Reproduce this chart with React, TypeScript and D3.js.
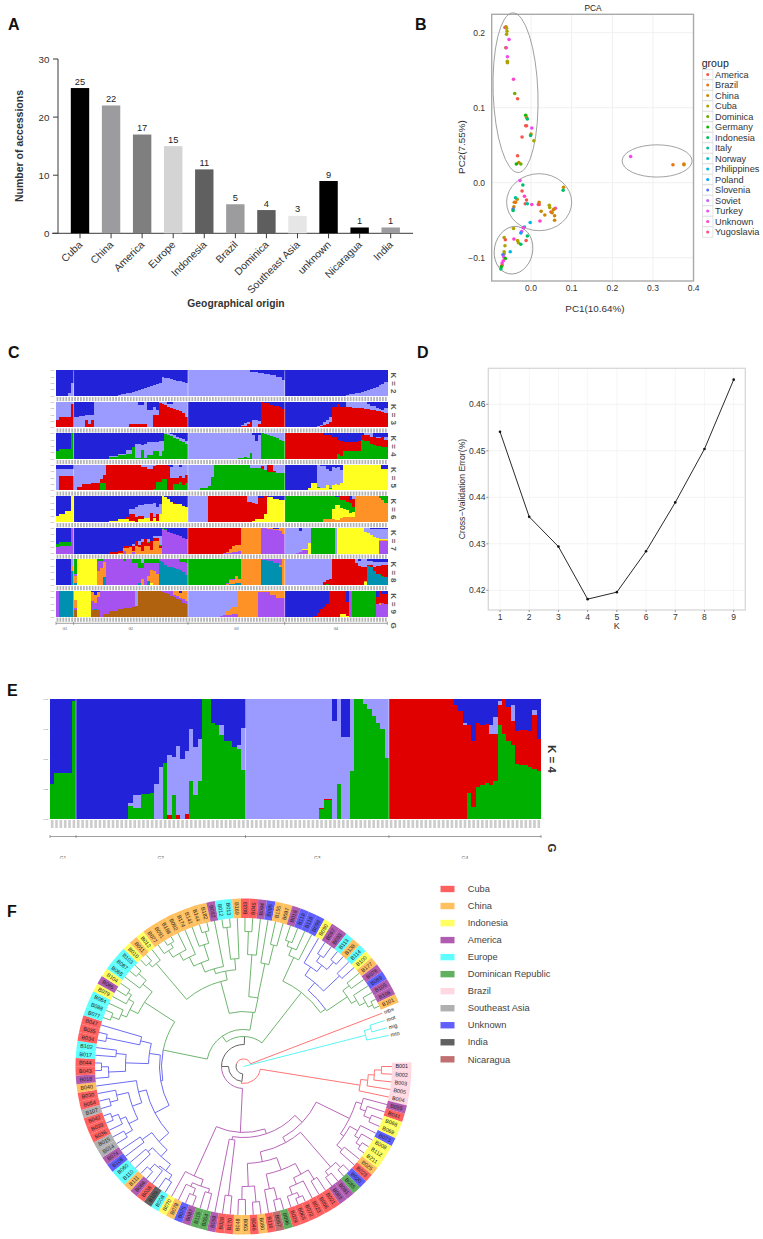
import React from "react";
import * as d3 from "d3";

const FONT = "'Liberation Sans', Arial, sans-serif";

// ---------- Panel A
const originNames = ["Cuba","China","America","Europe","Indonesia","Brazil","Dominica","Southeast Asia","unknown","Nicaragua","India"];
const originCounts = [25,22,17,15,11,5,4,3,9,1,1];
const originShades = ["#000000","#9c9c9e","#7f7f7f","#d4d4d4","#606060","#9c9c9e","#5e5e5e","#e6e6e6","#000000","#000000","#9c9c9e"];

// ---------- Panel B
const pcaGroups = ["America","Brazil","China","Cuba","Dominica","Germany","Indonesia","Italy","Norway","Philippines","Poland","Slovenia","Soviet","Turkey","Unknown","Yugoslavia"];
const pcaColors = ["#F8564D","#E67613","#CD8600","#ABA300","#6CAE00","#0CB702","#00BE67","#00C19A","#00BFC4","#00B8E7","#00A9FF","#5474FF","#C75CFF","#F048ED","#FF41CC","#FF4881"];
const pcaPoints: [number,number,string][] = [
[-.064,.207,"Unknown"],[-.0615,.208,"China"],[-.06,.206,"Cuba"],[-.059,.202,"Cuba"],[-.06,.198,"Cuba"],[-.054,.191,"Turkey"],[-.062,.18,"Cuba"],[-.061,.18,"Unknown"],[-.058,.168,"Turkey"],[-.058,.162,"Cuba"],[-.058,.16,"Cuba"],[-.043,.138,"Unknown"],[-.04,.119,"Dominica"],[-.033,.112,"America"],[-.013,.09,"Germany"],[-.011,.087,"China"],[-.009,.085,"Indonesia"],[-.013,.076,"America"],[-.011,.076,"America"],[.002,.073,"Turkey"],[0,.065,"China"],[-.001,.063,"Indonesia"],[-.022,.061,"America"],[.007,.056,"Cuba"],[-.033,.036,"America"],[-.03,.027,"China"],[-.036,.025,"Germany"],[-.025,.025,"Dominica"],
[-.027,.003,"Turkey"],[-.02,-.003,"Indonesia"],[-.022,-.011,"America"],[-.016,-.018,"Unknown"],[-.011,-.023,"America"],[-.034,-.022,"China"],[-.038,-.02,"Italy"],[-.041,-.026,"China"],[-.038,-.026,"Brazil"],[-.042,-.032,"China"],[-.044,-.035,"Slovenia"],[-.044,-.037,"Indonesia"],[-.014,-.028,"America"],[-.009,-.028,"Italy"],[.002,-.029,"Unknown"],[.018,-.029,"Turkey"],[.02,-.026,"China"],[.02,-.029,"America"],[.025,-.038,"China"],[.034,-.043,"China"],[.022,-.051,"Unknown"],[.045,-.03,"Cuba"],[.046,-.033,"Cuba"],[.049,-.039,"America"],[.052,-.04,"China"],[.055,-.036,"China"],[.06,-.034,"Unknown"],[.057,-.035,"China"],[.058,-.044,"China"],[.058,-.05,"China"],[.08,-.006,"China"],[.079,-.01,"Indonesia"],[-.002,-.053,"Philippines"],
[-.016,-.059,"Philippines"],[-.019,-.06,"Unknown"],[-.023,-.065,"Turkey"],[-.025,-.067,"Poland"],[-.043,-.061,"Cuba"],[-.009,-.071,"Indonesia"],[-.042,-.075,"Unknown"],[-.033,-.077,"Cuba"],[-.031,-.08,"Cuba"],[-.025,-.082,"Indonesia"],[-.012,-.077,"America"],[-.066,-.073,"Cuba"],[-.063,-.076,"America"],[-.064,-.084,"Cuba"],[-.051,-.092,"Philippines"],[-.066,-.092,"Cuba"],[-.066,-.095,"Cuba"],[-.069,-.096,"Slovenia"],[-.067,-.099,"Turkey"],[-.063,-.101,"Germany"],[-.068,-.104,"Unknown"],[-.071,-.107,"Turkey"],[-.071,-.11,"America"],[-.073,-.112,"Germany"],[-.074,-.115,"Indonesia"],
[.245,.035,"Turkey"],[.349,.024,"Brazil"],[.376,.025,"Brazil"],[.376,.024,"China"]];
const pcaEllipses: [number,number,number,number,number][] = [[-.038,.12,.055,.1065,-2],[.02,-.026,.08,.038,0],[-.043,-.09,.047,.032,12],[.31,.029,.086,.0215,0]];
const pcaXTicks = [0,.1,.2,.3,.4];
const pcaYTicks = [-.1,0,.1,.2];

// ---------- Panel D
const cvK = [1,2,3,4,5,6,7,8,9];
const cvError = [.4541,.4358,.4294,.4181,.4196,.4284,.4389,.4504,.4653];
const cvTicks = [.42,.43,.44,.45,.46];

// ---------- Panels C, E: ancestry runs, [column count, share of each stacked colour...]; last colour takes the rest
const structColors: Record<string,string> = {B:"#2222d8",P:"#9a9aff",R:"#e00000",G:"#00b000",Y:"#ffff20",O:"#ff9226",V:"#a552f0",T:"#0090b0",N:"#b0620f"};
const groupSizes = [6,39,33,35];
const groupNames = ["G1","G2","G3","G4"];
type Run = number[];
const k2Order = "PB";
const k2: Run[][] = [
[[4,0],[1,.1],[1,.5]],
[[15,0],[1,.04],[1,.06],[1,.08],[1,.1],[1,.13],[1,.16],[1,.2],[1,.23],[1,.26],[1,.3],[1,.33],[1,.38],[1,.42],[1,.46],[1,.5],[1,.72],[1,.7],[1,.68],[1,.65],[1,.62],[1,.6],[1,.58],[1,.55],[1,.52]],
[[21,1],[1,.95],[1,.93],[1,.92],[1,.9],[1,.88],[1,.87],[1,.85],[1,.82],[1,.8],[1,.75],[1,.72],[1,.64]],
[[21,0],[1,.04],[1,.06],[1,.08],[1,.1],[1,.12],[1,.15],[1,.2],[1,.24],[1,.28],[1,.3],[1,.36],[1,.42],[1,.48],[1,.55]]];
const k3Order = "RPB";
const k3: Run[][] = [
[[1,.3,.7],[4,.4,.6],[1,.93,.07]],
[[1,0,.4],[1,0,.42],[1,0,.44],[1,0,.45],[1,.3,.17],[1,.15,.35],[1,.3,.2],[12,0,1],[3,.12,.88],[2,.15,.72],[1,.15,.85],[2,0,.68],[1,.5,.3],[1,.5,.2],[1,.95,.05],[1,.92,.08],[1,.88,.12],[1,.78,.14],[1,.75,.17],[1,.73,.27],[1,.7,.3],[1,.65,.35],[1,.55,.45],[1,.4,.6]],
[[17,0,0],[1,.03,0],[1,.05,.03],[1,.06,.12],[1,.15,.05],[1,.2,0],[2,0,.28],[1,.15,.1],[1,.98,0],[1,.97,0],[1,.95,0],[1,.88,0],[1,.85,0],[1,.82,0],[1,.8,0],[1,.72,0]],
[[11,0,0],[1,.03,.03],[1,.06,.05],[1,.1,.1],[1,.15,.15],[1,.22,.2],[2,.8,0],[1,.93,0],[2,.8,0],[1,.79,.21],[1,.78,.22],[2,.77,.23],[2,.75,.25],[1,.73,.27],[1,.72,.2],[1,.7,.12],[1,.68,.15],[1,.66,.08],[1,.63,.1],[1,.6,.1],[1,.55,.2],[1,.5,.15],[1,.42,.2]]];
const k4Order = "GRPB";
const k4: Run[][] = [
[[1,.3],[4,.37],[1,1]],
[[12,0],[3,.07,0,.05],[3,.17,0,.02],[2,.2,0,.15],[1,.45],[2,.05,0,.55],[1,.35,0,.2],[1,.05,0,.55],[2,.15,.02,.5],[2,.3,0,.35],[1,.12,0,.6],[1,.3,0,.4],[1,.98,0,.02],[1,.95,0,.05],[1,.88,0,.1],[1,.82,0,.12],[1,.78,0,.08],[1,.7,0,.12],[1,.65,0,.12],[1,.6,0,.12],[1,.52,0,.15],[1,.4,0,.25]],
[[17,0,0,1],[2,.03,0,.97],[1,.08,0,.92],[1,.03,0,.97],[1,.25,0,.75],[1,0,0,.95],[1,0,0,.7],[1,0,0,.95],[1,1],[1,.98,0,.02],[1,.95,0,.05],[1,.9,0,.1],[1,.85,0,.15],[1,.8,0,.2],[1,.75,0,.25],[1,.7,0,.3],[1,.62,0,.38]],
[[13,0,1],[3,0,.93,0],[2,0,.87],[1,.2,.55],[1,.1,.6],[5,.3,.35],[1,.3,.42],[1,.75,.2],[2,.72,.2,.08],[1,.6,.25,.15],[1,.55,.3],[2,.5,.3,.05],[1,.48,.37],[3,.45,.3,.1]]];
const k5Order = "YGRPB";
const k5: Run[][] = [
[[1,.03,0,0,.82],[5,0,0,.55,.28]],
[[1,0,0,0,1],[2,0,0,.12,.88],[3,0,0,.25,.75],[3,0,0,.28,.72],[1,0,.3,.15,.55],[1,0,.3,.3,.4],[12,0,0,1],[2,0,.03,.87,.1],[2,0,.02,.83,.15],[1,0,.05,.9,.05],[2,0,.35,.65],[2,0,.45,.55],[1,0,0,.97,0],[1,0,0,.5,.4],[2,0,.25,.25,.5],[1,0,.35,.2,.35],[1,0,.2,.3,.5],[1,0,.3,.3,.4]],
[[4,.02,0,0,1],[3,.02,.08,0,.9],[1,.02,.15,0,.85],[1,.02,.5,0,.5],[12,0,1],[4,0,.88,0,.12],[1,0,.82,.12,.06],[1,0,.8,0,.2],[2,0,.72,.28],[1,0,.72,.05,.23],[1,0,.7,0,.3]],
[[8,0],[1,.1],[2,.3],[1,.1,.05,0,.85],[2,.1,0,0,.85],[1,.2,.02,0,.6],[1,.05,.05,0,.65],[1,.2,.02,0,.7],[1,.25,.02,0,.6],[1,.2,0,0,.7],[1,.3,0,0,.5],[13,1],[3,.85]]];
const k6Order = "OYGRPB";
const k6: Run[][] = [
[[1,0,.25],[2,0,.3],[2,0,.42],[1,0,1]],
[[12,0],[3,0,.05],[3,0,.1],[1,0,.1,0,.1],[2,0,.03,0,.28,.2],[1,0,0,0,.2,.4],[2,0,.1,0,.15,.4],[2,0,.15,0,.02,.55],[1,0,.05,0,.3,.35],[1,0,.15,0,.05,.55],[1,0,.05,0,.25,.3],[1,0,.3,0,0,.4],[1,0,1],[1,0,.97],[1,0,.9],[1,0,.8],[1,0,.72,0,.02],[2,0,.7],[1,0,.62],[2,0,.6],[1,0,.52],[1,0,.47]],
[[7,0,0,0,0,1],[13,0,0,0,1],[2,0,0,0,.8,.2],[1,0,.03,0,.72,.25],[1,0,.1,0,.6,.3],[2,0,.12,0,.82],[1,0,.3,0,.7],[1,0,.98],[1,0,.97],[2,0,.9],[2,0,.85],[1,0,.75],[1,0,.6,0,0,.4]],
[[13,0,0,1],[3,.12,0,.88],[1,.1,.4,.5],[2,.08,.6,.3],[1,.15,.4,.3,.15],[1,.2,.32,.35,.13],[1,.18,.3,.3,.22],[1,.2,.15,.4,.1],[1,.2,.2,.2,.3,.1],[8,1],[1,.95,0,.05],[1,.85,0,.15],[1,.75,0,.25],[1,.7,0,.25]]];
const k7Order = "VOYRGPB";
const k7: Run[][] = [
[[1,.25,0,0,0,.12],[4,.3,0,0,0,.15],[1,1]],
[[12,0],[3,0,0,0,.05],[2,0,.03,0,.08],[1,.1,.12,0,.08],[1,0,.2,0,.1],[1,0,.25,0,.05],[1,.05,.03,0,.2,0,.08],[1,0,.3,0,.2],[1,0,.25,0,.08,.02,.15],[1,0,.1,0,.35,0,.1],[1,0,.3,0,.28],[1,0,.28,0,.15,.02,.1],[1,0,.15,0,.35],[2,0,.5,0,.12,0,.05],[1,0,.2,0,.1,.02,.35],[1,.97,0,0,0,.03],[1,.92,0,0,0,.05],[1,.85],[1,.8],[1,.78],[1,.74],[1,.68],[1,.62],[1,.55],[1,.45]],
[[12,0,0,0,1],[1,.02,0,0,.98],[1,.04,.03,0,.93],[1,.04,.12,0,.84],[1,.06,.22,0,.72],[1,.05,.3,0,.65],[1,.1,.25,0,.65],[7,0,1],[2,1],[2,.97,.03],[2,.92,.05],[1,.88,.12],[1,.78,.2]],
[[4,0,0,0,0,0,1],[1,.03,0,0,0,0,.97],[1,.05,0,0,0,0,.85],[2,.12,0,.06,0,0,.82],[1,0,0,.4,0,0,.6],[8,0,0,0,0,1],[1,0,0,0,0,0,1],[9,0,0,1],[1,0,0,.85,0,0,.15],[1,0,0,.8,0,0,.2],[1,0,0,.72,0,0,.25],[1,0,0,.65,0,0,.3],[1,0,0,.6,0,0,.35],[3,.5,.02,.05,0,0,.4]]];
const k8Order = "TYOVGRPB";
const k8: Run[][] = [
[[5,0],[1,.55,0,.2,0,0,0,.25]],
[[1,.1,0,.25,.1,.55],[7,0,1],[1,0,0,.55,.4,.05],[1,0,0,.65,.3,.05],[1,.3,0,.6,.1],[6,0,0,0,1],[1,0,0,0,.95,.05],[2,0,0,0,1],[2,0,0,0,.88,.12],[1,.1,0,0,.55,.35],[1,0,0,.25,.4,.2,0,.15],[1,0,0,0,.85,.15],[1,.15,0,.2,.5,.15],[1,0,.1,.5,.25,.15],[1,0,0,.55,.3,.15],[1,0,0,.45,.4,.15],[1,.95,0,0,.05],[1,.9,0,0,.1],[1,.78,0,0,.22],[1,.72,0,0,.28],[1,.7,0,0,.3],[1,.65,0,0,.35],[1,.62,0,0,.38],[1,.58,0,0,.32,.1],[1,.5,0,0,.4,.1],[1,.38,0,0,.5,.12]],
[[12,0,0,0,0,1],[1,0,0,0,.02,.98],[1,.02,0,.03,.02,.93],[2,.05,0,.15,.02,.78],[1,.1,0,.25,0,.65],[1,.08,0,.15,0,.77],[7,0,0,1],[2,.98,0,0,.02],[2,.95,0,0,.05],[2,.85,0,0,.15],[1,.72,0,.05,.23],[1,0,0,1]],
[[13,0,0,0,0,0,0,1],[1,0,0,0,0,.02,.1,.88],[1,0,0,0,0,.06,.15,.79],[1,0,0,0,0,.02,.22,.76],[8,0,0,0,0,0,1],[1,0,0,0,0,0,.85,.15],[1,0,0,0,0,0,.75,.2],[1,0,0,0,0,0,.72,.28],[1,0,.12,.03,0,0,.55,.3],[1,.75,0,0,0,0,.05,.15],[1,.7,0,0,0,0,.08,.15],[1,.55,0,0,0,0,.15,.2],[1,.45,0,0,0,0,.3,.15,.1],[1,.4,0,0,0,.05,.3,.15],[1,.32,0,0,0,.02,.45,.1],[1,.3,0,0,0,0,.5,.1]]];
const k9Order = "NTVOYRGPB";
const k9: Run[][] = [
[[1,0,0,1],[5,0,1]],
[[1,.25,0,.1,.3,.35],[5,0,0,0,0,1],[1,.25,0,.35,.35],[1,.25,.05,.25,.3],[1,.25,0,.5,.2],[1,0,0,1],[2,.1,0,.9],[3,.2,0,.8],[2,.28,0,.72],[3,.35,0,.65],[1,.38,0,.62],[1,.4,0,0,0,0,0,0,.6],[8,1],[1,.97,0,.03],[1,.92,0,.08],[1,.88,0,.12],[1,.82,0,.18],[1,.75,0,.1,.15],[1,.7,0,.1,.2],[1,.63,0,.1,.2],[1,.55,0,.12,.33],[1,.5,0,.1,.4],[1,.42,0,.1,.48]],
[[11,0,0,0,0,0,0,0,1],[1,0,0,.03,0,0,0,0,.97],[1,0,0,.05,.02,0,0,0,.93],[1,0,0,.05,.15,0,0,0,.8],[1,0,0,.07,.22,0,0,0,.71],[2,0,0,.12,.25,0,0,0,.63],[7,0,0,0,1],[2,0,0,.98,.02],[2,0,0,.95,.05],[2,0,0,.85,.15],[1,0,0,.72,.28]],
[[10,0,0,0,0,0,0,0,0],[1,0,0,0,0,0,.03],[1,0,0,0,0,0,.15],[1,0,0,0,0,0,.3],[1,0,0,0,0,0,.38],[1,0,0,0,0,0,.48],[4,0,0,0,0,0,1],[2,0,0,0,0,.1,.9],[1,0,0,0,0,.03,.55],[1,0,0,1],[8,0,0,0,0,0,0,1],[1,0,0,.5,0,0,.25],[1,0,0,.45,.1,0,.45],[1,0,0,.55,0,0,.35],[1,0,0,.5,0,0,.4]]];
const eOrder = "GRPB";
const eK4: Run[][] = [
[[1,.29],[4,.38],[1,.98]],
[[12,0],[1,.11,0,.02],[2,.09,0,.11],[2,.21],[1,.22],[1,0,0,.29],[1,0,0,.43],[1,.47],[1,0,.03,.5],[1,.2,0,.32],[1,0,.03,.58],[1,0,0,.5],[1,0,.04,.53],[1,.32,0,.43],[1,.2,0,.4],[1,.32,0,.35],[2,1],[1,.8],[1,.78],[1,.7,0,.08],[2,.65],[1,.6],[1,.58,0,.04],[1,.41,0,.35]],
[[17,0,0,1],[1,.08,.01,.91],[2,.16,.01,.83],[1,0,0,.82],[1,.29,0,.71],[2,0,0,.68],[1,.4,0,.6],[2,1],[1,.96,0,.04],[1,.92,0,.08],[1,.86,0,.14],[1,.8,0,.2],[1,.75,0,.25],[1,.51,0,.49]],
[[15,0,1],[1,0,.95],[1,0,.9],[1,0,.78,.02],[1,.22,.56],[1,.1,.55],[1,.27,.53],[1,.28,.5],[1,.3,.49],[1,.28,.43,.07],[1,.32,.39,.14],[1,.78,.17,.03],[1,.71,.29],[1,.65,.28],[1,.62,.2,.13],[1,.46,.27],[2,.45,.29],[1,.43,.3],[1,.42,.45,.04],[1,.4,.27],[1,.4,.38,.02]]];
const structRows: [number,string,Run[][]][] = [[2,k2Order,k2],[3,k3Order,k3],[4,k4Order,k4],[5,k5Order,k5],[6,k6Order,k6],[7,k7Order,k7],[8,k8Order,k8],[9,k9Order,k9]];
const shareTicks = ["0.00","0.25","0.50","0.75","1.00"];

// ---------- Panel F
const originLegend = ["Cuba","China","Indonesia","America","Europe","Dominican Republic","Brazil","Southeast Asia","Unknown","India","Nicaragua"];
const originFill = ["#ff6060","#ffc060","#ffff60","#b05cb0","#60ffff","#60b060","#ffd8e2","#b0b0b0","#6060ff","#606060","#c07070"];
const leafNames = ["B001","B002","B003","B005","B004","B055","B041","B068","B069","B073","B008","B112","B211","B025","B023","B020","B085","B081","B083","B021","B056","B023","B072","B065","B029","B096","B067","B116","B080","B046","B063","B048","B170","B028","B059","B054","B115","B087","B075","B078","B070","B008","B109","B038","B066","B111","B110","B060","B108","B074","B014","B015","B036","B039","B042","B107","B054","B030","B040","B018","B043","B044","B017","B102","B034","B035","B047","B077","B088","B084","B079","B085","B104","B065","B087","B103","B010","B011","B012","B077","B091","B188","B092","B174","B141","B144","B182","B092","B012","B013","B169","B033","B045","B094","B095","B155","B097","B018","B119","B118","B099","B090","B067","B093","B113","B138","B114","B100","B177","B076","B089","B105","B106","B101"];
const leafOrigin = ["Brazil","Brazil","Brazil","Brazil","Brazil","America","Cuba","Indonesia","Indonesia","Unknown","Indonesia","Indonesia","Indonesia","China","Cuba","Unknown","Dominican Republic","America","America","Cuba","Cuba","Cuba","Cuba","Cuba","Cuba","Dominican Republic","Nicaragua","Cuba","China","Cuba","China","China","Cuba","Cuba","America","Dominican Republic","Dominican Republic","America","Unknown","China","Indonesia","Europe","India","Cuba","America","China","Europe","Europe","Unknown","America","Southeast Asia","Southeast Asia","Cuba","Cuba","Cuba","Southeast Asia","Cuba","Cuba","China","America","Cuba","Cuba","Europe","Europe","Cuba","Cuba","Cuba","Europe","Europe","Europe","Indonesia","America","Indonesia","Europe","Europe","Europe","Indonesia","China","Indonesia","China","China","China","China","China","China","China","China","America","Europe","Europe","China","Cuba","Cuba","America","Unknown","China","China","America","Unknown","Unknown","Unknown","Indonesia","America","America","Europe","China","Europe","Indonesia","China","America","Unknown","America","America","China"];
const outgroupNames = ["mbe","mot","mig","mto"];
// tree: [radius, child, child...], a child is a leaf index or a node; [[radius, angle], ...] fixes the node's angle
const paint = (color: string, node: any) => ({ color, node });
const cRed = "#ff7474", cCyan = "#5cf4f4", cGray = "#666666", cGreen = "#6fb56f", cBlue = "#6c6cf2", cPurple = "#b866b8";
const cladeBrazil = [118,[125,[131,[138,0,1],2],3],4];
const cladeA = [118,[124,5,[130,6,[137,7,8]]],[122,[131,9,[136,10,[141,11,12]]],[129,13,14]]];
const cladeB = [133,[140,15,16],[138,17,18]];
const cladeD = [97,[110,[122,[133,19,20],[129,21,[137,[142,22,23],24]]],[125,[137,25,26],27]],[120,[136,28,29],[133,30,31]]];
const cladeE = [74,[130,32,33],34];
const cladeLL = [120,[127,[131,35,36],[131,[138,37,38],39]],40];
const cladePurple = [66,[71,[81,cladeA,[[87,61],cladeB,cladeD]],cladeE],cladeLL];
const bl2 = [113,[122,[130,[136,41,42],[132,43,[139,44,45]]],[128,46,47]],[125,48,49]];
const bl1 = [108,[118,[128,[136,50,51],[134,52,[141,53,54]]],[130,[138,55,56],57]],58];
const blUp = [95,[118,[135,59,[142,60,61]],[128,62,63]],[106,[140,64,65],66]];
const cladeBlue = [84,[100,bl2,bl1],blUp];
const cladeG3 = [118,[127,[133,[141,67,68],69],[133,70,[137,71,72]]],[130,73,[140,74,75]]];
const cladeLeft = [82,paint(cBlue,cladeBlue),cladeG3];
const t76 = [135,[140,76,77],78];
const tLad = [102,[112,[122,[130,[138,79,[143,80,81]],82],83],[128,84,[140,85,86]]],87];
const tA = [108,[140,88,89],90];
const tB = [112,[135,91,92],93];
const tC = [105,94,[125,95,96]];
const cladeTop = [[55,280],[[88,255],t76,[97,tLad,tA]],[[70,282],tB,tC]];
const right1 = [120,[128,[133,97,98],99],100];
const blue2 = [110,[120,101,[128,[135,102,103],[138,104,105]]],[132,106,107]];
const green2 = [125,[133,108,109],[131,110,[138,111,[143,112,113]]]];
const cladeRight = [[94,308],right1,[[100,325],paint(cBlue,blue2),green2]];
const cladeGreen = [[30,272],paint(cGreen,[[37,235],cladeLeft,cladeTop]),paint(cGreen,cladeRight)];
const treeRoot = [0,
  paint("none",[[7.5,199],
    paint(cGray,[[15,96],
      paint(cRed,[[17,97],cladeBrazil]),
      paint(cGray,[[22,180],paint(cPurple,cladePurple),paint(cGray,cladeGreen)])]),
    paint(cRed,114)]),
  paint(cCyan,[126,[133,115,116],117])];

// ---------- drawing helpers
const Txt = (p: any) => <text fontFamily={FONT} {...p} />;

function PanelA() {
  const x = d3.scalePoint(originNames, [80, 390.7]);
  const y = d3.scaleLinear([0, 30], [233.3, 59]);
  const ink = "#3a3a3a";
  return (
    <g>
      <line x1={58} x2={58} y1={y(30)} y2={y(0)} stroke={ink} strokeWidth={1} />
      <line x1={52} x2={413} y1={y(0)} y2={y(0)} stroke={ink} strokeWidth={1} />
      {y.ticks(3).map(t => (
        <g key={t}>
          <line x1={53} x2={58} y1={y(t)} y2={y(t)} stroke={ink} />
          <Txt x={49.5} y={y(t) + 3.5} fontSize={9.8} textAnchor="end" fill="#333">{t}</Txt>
        </g>
      ))}
      {originNames.map((n, i) => (
        <g key={n}>
          <rect x={x(n)! - 9.2} width={18.4} y={y(originCounts[i])} height={y(0) - y(originCounts[i])} fill={originShades[i]} />
          <line x1={x(n)} x2={x(n)} y1={y(0)} y2={y(0) + 5} stroke={ink} />
          <Txt x={x(n)} y={y(originCounts[i]) - 3.5} fontSize={9.3} textAnchor="middle" fill="#222">{originCounts[i]}</Txt>
          <Txt transform={`translate(${x(n)! + 3},${y(0) + 12}) rotate(-45)`} fontSize={10.4} textAnchor="end" fill="#333">{n}</Txt>
        </g>
      ))}
      <Txt transform="translate(23,146) rotate(-90)" fontSize={10.5} fontWeight={700} fill="#333" textAnchor="middle">Number of accessions</Txt>
      <Txt x={236} y={307} fontSize={10.3} fontWeight={700} fill="#333" textAnchor="middle">Geographical origin</Txt>
    </g>
  );
}

function PanelB() {
  const x = d3.scaleLinear([0, .4], [531, 693.7]);
  const y = d3.scaleLinear([-.1, .2], [257.7, 32.7]);
  const left = 491.7, right = 693.5, top = 14.3, bottom = 281;
  const colorOf = d3.scaleOrdinal(pcaGroups, pcaColors);
  return (
    <g>
      {pcaXTicks.map(t => <line key={t} x1={x(t)} x2={x(t)} y1={top} y2={bottom} stroke="#f0f0f0" />)}
      {pcaYTicks.map(t => <line key={t} y1={y(t)} y2={y(t)} x1={left} x2={right} stroke="#f0f0f0" />)}
      <rect x={left} y={top} width={right - left} height={bottom - top} fill="none" stroke="#aaaaaa" strokeWidth={1.4} />
      {pcaXTicks.map(t => <Txt key={t} x={x(t)} y={290.5} fontSize={8.5} textAnchor="middle" fill="#333">{t.toFixed(1)}</Txt>)}
      {pcaYTicks.map(t => <Txt key={t} x={485} y={y(t) + 3} fontSize={8.5} textAnchor="end" fill="#333">{t < 0 ? "−" + (-t).toFixed(1) : t.toFixed(1)}</Txt>)}
      <Txt x={593} y={10.5} fontSize={8.4} textAnchor="middle" fill="#222">PCA</Txt>
      <Txt x={595} y={312} fontSize={9.9} textAnchor="middle" fill="#333">PC1(10.64%)</Txt>
      <Txt transform="translate(465,147) rotate(-90)" fontSize={9.9} textAnchor="middle" fill="#333">PC2(7.55%)</Txt>
      {pcaEllipses.map((e, i) => {
        const cx = x(e[0]), cy = y(e[1]);
        return <ellipse key={i} cx={cx} cy={cy} rx={x(e[2]) - x(0)} ry={y(0) - y(e[3])} transform={`rotate(${e[4]},${cx},${cy})`} fill="none" stroke="#8a8a8a" strokeWidth={.8} />;
      })}
      {pcaPoints.map((p, i) => <circle key={i} cx={x(p[0])} cy={y(p[1])} r={1.8} fill={colorOf(p[2])} />)}
      <Txt x={701.7} y={67} fontSize={10.6} fill="#222">group</Txt>
      {pcaGroups.map((g, i) => {
        const yy = 74.5 + i * 10.5;
        return (
          <g key={g}>
            <rect x={702.5} y={yy - 5.2} width={10.4} height={10.4} fill="#fff" stroke="#dddddd" strokeWidth={.8} />
            <circle cx={707.7} cy={yy} r={1.5} fill={colorOf(g)} />
            <Txt x={715} y={yy + 3.2} fontSize={9.2} fill="#333">{g}</Txt>
          </g>
        );
      })}
    </g>
  );
}

function PanelD() {
  const x = d3.scaleLinear([1, 9], [500, 733.7]);
  const y = d3.scaleLinear([.42, .46], [590.3, 404.3]);
  const left = 488.3, right = 745.3, top = 368.3, bottom = 610;
  const line = d3.line<number>((_, i) => x(cvK[i]), d => y(d));
  return (
    <g>
      {cvK.map(k => <line key={k} x1={x(k)} x2={x(k)} y1={top} y2={bottom} stroke="#f6f6f6" />)}
      {cvTicks.map(t => <line key={t} x1={left} x2={right} y1={y(t)} y2={y(t)} stroke="#f3f3f3" />)}
      <rect x={left} y={top} width={right - left} height={bottom - top} fill="none" stroke="#d8d8d8" strokeWidth={1.3} />
      <path d={line(cvError)!} fill="none" stroke="#2a2a2a" strokeWidth={1} />
      {cvError.map((v, i) => <circle key={i} cx={x(cvK[i])} cy={y(v)} r={1.3} fill="#111" />)}
      {cvK.map(k => (
        <g key={k}>
          <line x1={x(k)} x2={x(k)} y1={bottom} y2={bottom + 2} stroke="#555" strokeWidth={.6} />
          <Txt x={x(k)} y={619.8} fontSize={8.5} textAnchor="middle" fill="#333">{k}</Txt>
        </g>
      ))}
      {cvTicks.map(t => (
        <g key={t}>
          <line x1={left - 2} x2={left} y1={y(t)} y2={y(t)} stroke="#555" strokeWidth={.6} />
          <Txt x={485.5} y={y(t) + 3} fontSize={8.5} textAnchor="end" fill="#333">{t.toFixed(2)}</Txt>
        </g>
      ))}
      <Txt x={616.7} y={628.5} fontSize={9} textAnchor="middle" fill="#333">K</Txt>
      <Txt transform="translate(465,489) rotate(-90)" fontSize={8.7} textAnchor="middle" fill="#333">Cross−Validation Error(%)</Txt>
    </g>
  );
}

function Structure({ order, runs, left, right, top, height, stripH, stripFill, tickFont, label }: any) {
  const total = d3.sum(groupSizes);
  const cols = d3.range(total);
  const x = d3.scaleBand<number>(cols, [left, right]);
  const y = d3.scaleLinear([0, 1], [top + height, top]);
  const rects: any[] = [];
  let start = 0;
  groupSizes.forEach((size, g) => {
    let col = start;
    const list: Run[] = runs[g];
    list.forEach((run: Run, ri: number) => {
      const n = ri === list.length - 1 ? start + size - col : run[0];
      for (let c = col; c < col + n && c < start + size; c++) {
        let acc = 0;
        for (let s = 0; s < order.length; s++) {
          const share = s === order.length - 1 ? 1 - acc : (run[s + 1] || 0);
          if (share > 0) {
            const a = Math.min(acc, 1), b = Math.min(acc + share, 1);
            rects.push(<rect key={c + "-" + s} x={x(c)} width={x.bandwidth() + .3} y={y(b)} height={y(a) - y(b)} fill={structColors[order[s]]} />);
            acc = b;
          }
        }
      }
      col += n;
    });
    start += size;
  });
  let edge = 0;
  const edges = groupSizes.slice(0, -1).map(s => (edge += s));
  return (
    <g>
      <g shapeRendering="crispEdges">{rects}</g>
      {edges.map(e => <line key={e} x1={x(e)} x2={x(e)} y1={top} y2={top + height} stroke="#fff" strokeWidth={.6} strokeOpacity={.75} />)}
      {cols.map(c => <rect key={c} x={x(c)! + x.bandwidth() * .2} width={x.bandwidth() * .6} y={top + height + 1} height={stripH} fill={stripFill} />)}
      {shareTicks.map((t, i) => <Txt key={t} x={left - 2} y={y(i / 4) + .9} fontSize={tickFont} textAnchor="end" fill="#666">{t}</Txt>)}
      {label}
    </g>
  );
}

function GroupAxis({ left, right, y0, labelY, font, clip }: any) {
  const total = d3.sum(groupSizes);
  const x = d3.scaleLinear([0, total], [left, right]);
  let acc = 0;
  const stops = [0, ...groupSizes.map(s => (acc += s))];
  return (
    <g>
      <line x1={left} x2={right} y1={y0} y2={y0} stroke="#777" strokeWidth={.7} />
      {stops.map(s => <line key={s} x1={x(s)} x2={x(s)} y1={y0 - 1.5} y2={y0 + 1.5} stroke="#777" strokeWidth={.7} />)}
      <g clipPath={clip}>
        {groupNames.map((n, i) => <Txt key={n} x={(x(stops[i]) + x(stops[i + 1])) / 2} y={labelY} fontSize={font} textAnchor="middle" fill="#555">{n}</Txt>)}
      </g>
    </g>
  );
}

function PanelC() {
  const left = 56, right = 387.3;
  const rowTop = d3.scaleLinear([2, 9], [370.3, 591]);
  return (
    <g>
      {structRows.map(([k, order, runs]) => (
        <Structure key={k} order={order} runs={runs} left={left} right={right} top={rowTop(k)} height={25.6} stripH={4.2} stripFill="#b4b4b4" tickFont={1.8}
          label={<Txt transform={`translate(391,${rowTop(k) + 12.8}) rotate(90)`} fontSize={8} fontWeight={700} letterSpacing={.4} textAnchor="middle" fill="#555">{"K = " + k}</Txt>} />
      ))}
      <GroupAxis left={left} right={right} y0={623.3} labelY={629.5} font={3.4} />
      <Txt transform="translate(391,625.5) rotate(90)" fontSize={8} fontWeight={700} textAnchor="middle" fill="#555">G</Txt>
    </g>
  );
}

function PanelE() {
  const left = 50, right = 541, top = 699, h = 120;
  return (
    <g>
      <defs><clipPath id="eclip"><rect x={0} y={840} width={763} height={18.5} /></clipPath></defs>
      <Structure order={eOrder} runs={eK4} left={left} right={right} top={top} height={h} stripH={8} stripFill="#cccccc" tickFont={2.4}
        label={<Txt transform={`translate(547.5,${top + 60}) rotate(90)`} fontSize={11.5} fontWeight={700} textAnchor="middle" fill="#333">K = 4</Txt>} />
      <GroupAxis left={left} right={right} y0={836.5} labelY={860} font={5} clip="url(#eclip)" />
      <Txt transform="translate(547.5,848) rotate(90)" fontSize={11.5} fontWeight={700} textAnchor="middle" fill="#333">G</Txt>
    </g>
  );
}

function PanelF() {
  const cx = 243.5, cy = 1066.5, rIn = 148.5, rOut = 168;
  const angle = d3.scaleLinear([0, 113], [0, 336]);
  const rad = (a: number) => (a * Math.PI) / 180;
  const fillOf = d3.scaleOrdinal(originLegend, originFill);
  const segs: Record<string, string[]> = {};
  const add = (c: string, d: string) => { if (c !== "none") (segs[c] = segs[c] || []).push(d); };
  const unwrap = (n: any) => (n && n.node !== undefined ? n.node : n);
  const angleOf = (raw: any): number => {
    const n = unwrap(raw);
    if (typeof n === "number") return angle(n);
    if (Array.isArray(n[0])) return n[0][1];
    const kids = n.slice(1).map(angleOf);
    return (kids[0] + kids[kids.length - 1]) / 2;
  };
  const radiusOf = (raw: any): number => {
    const n = unwrap(raw);
    if (typeof n === "number") return rIn;
    return Array.isArray(n[0]) ? n[0][0] : n[0];
  };
  const walk = (raw: any, color: string) => {
    const n = unwrap(raw);
    if (typeof n === "number") return;
    const r = radiusOf(n), a0 = angleOf(n);
    n.slice(1).forEach((child: any) => {
      const c = child && child.color ? child.color : color;
      const a1 = angleOf(child), r1 = radiusOf(child);
      const p = d3.path();
      if (r > 0) {
        p.arc(cx, cy, r, rad(a0), rad(a1), a1 < a0);
        p.lineTo(cx + r1 * Math.cos(rad(a1)), cy + r1 * Math.sin(rad(a1)));
      } else {
        p.moveTo(cx, cy);
        p.lineTo(cx + r1 * Math.cos(rad(a1)), cy + r1 * Math.sin(rad(a1)));
      }
      add(c, p.toString());
      walk(child, c);
    });
  };
  walk(treeRoot, cGreen);
  const arc = d3.arc<number>().innerRadius(rIn).outerRadius(rOut)
    .startAngle(i => rad(angle(i - .5) + 90)).endAngle(i => rad(angle(i + .5) + 90));
  const legendY = d3.scaleLinear([0, 10], [889, 1059.3]);
  return (
    <g>
      <g transform={`translate(${cx},${cy})`}>
        {leafNames.map((_, i) => <path key={i} d={arc(i)!} fill={fillOf(leafOrigin[i])} />)}
      </g>
      {Object.keys(segs).map(c => <path key={c} d={segs[c].join(" ")} fill="none" stroke={c} strokeWidth={1} />)}
      {leafNames.map((n, i) => {
        const a = angle(i);
        const flip = a > 90 && a < 270;
        return (
          <Txt key={i} transform={`translate(${cx + (rIn + rOut) / 2 * Math.cos(rad(a))},${cy + (rIn + rOut) / 2 * Math.sin(rad(a))}) rotate(${flip ? a - 180 : a})`}
            fontSize={5.4} textAnchor="middle" dy={1.9} fill="#222">{n}</Txt>
        );
      })}
      {outgroupNames.map((n, i) => {
        const a = angle(114 + i);
        return <Txt key={n} transform={`translate(${cx + (rIn + 2) * Math.cos(rad(a))},${cy + (rIn + 2) * Math.sin(rad(a))}) rotate(${a})`} fontSize={5.4} dy={1.9} fill="#222">{n}</Txt>;
      })}
      {originLegend.map((n, i) => (
        <g key={n}>
          <rect x={440.5} width={14} y={legendY(i) - 3.2} height={6.4} fill={originFill[i]} />
          <Txt x={467.7} y={legendY(i) + 3.2} fontSize={9.3} fill="#444">{n}</Txt>
        </g>
      ))}
    </g>
  );
}

const panelLetters: [string, number, number][] = [["A",8,30],["B",415,30],["C",8,358],["D",417,358],["E",7,696],["F",7,917]];

export default function App() {
  return (
    <svg width={763} height={1239} viewBox="0 0 763 1239" style={{ position: "absolute", left: 0, top: 0, background: "#fff" }}>
      <PanelA />
      <PanelB />
      <PanelC />
      <PanelD />
      <PanelE />
      <PanelF />
      {panelLetters.map(([t, x, y]) => <Txt key={t} x={x} y={y} fontSize={16} fontWeight={700} fill="#111">{t}</Txt>)}
    </svg>
  );
}
